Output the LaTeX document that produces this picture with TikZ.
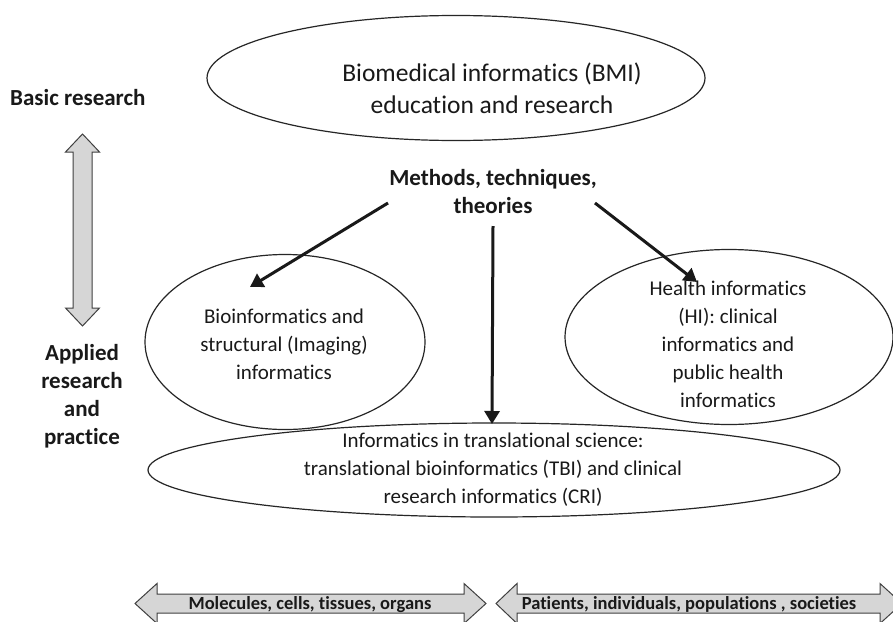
\documentclass[tikz,border=0pt]{standalone}
\usepackage{fontspec}
\setmainfont{Carlito}[Ligatures={NoCommon,NoContextual}]
\usetikzlibrary{shapes.geometric,arrows.meta}
\begin{document}
\begin{tikzpicture}[x=1pt,y=-1pt,
  oval/.style={draw=black!85,line width=1.2pt,ellipse,inner sep=0pt},
  body/.style={align=center,font=\fontsize{21}{28}\selectfont,text=black!90,inner sep=0pt},
  bold/.style={align=center,font=\fontsize{23}{28}\selectfont\bfseries,text=black!90,inner sep=0pt},
  small/.style={font=\fontsize{18.5}{22}\selectfont\bfseries,text=black!90,inner sep=0pt},
  arr/.style={line width=3pt,black!90,-{Triangle[length=13pt,width=15pt]}},
  fat/.style={draw=black!75,fill=black!16,line width=1pt,line join=miter},
]
\useasboundingbox (0,0) rectangle (893,621);
\clip (0,0) rectangle (893,621);
\fill[white] (0,0) rectangle (893,621);

% ellipses
\node[oval,minimum width=498pt,minimum height=125pt] (bmi) at (456,78) {};
\node[oval,minimum width=280pt,minimum height=175pt] (bio) at (285,342) {};
\node[oval,minimum width=328pt,minimum height=175pt] (hi) at (729,337) {};
\node[oval,minimum width=692pt,minimum height=94pt] (tr) at (494,470) {};

% texts
\node[body,font=\fontsize{25.5}{32}\selectfont] (bmit) at (492,88) {Biomedical informatics (BMI)\\education and research};
\node[bold] (meth) at (493,192) {Methods, techniques,\\theories};
\node[bold,anchor=base west] (basic) at (10,105) {Basic research};
\node[bold] (appl) at (82,396) {Applied\\research\\and\\practice};
\node[body] (biot) at (284,344) {Bioinformatics and\\structural (Imaging)\\informatics};
\node[body] (hit) at (728,344) {Health informatics\\(HI): clinical\\informatics and\\public health\\informatics};
\node[body] (trt) at (493,470) {Informatics in translational science:\\translational bioinformatics (TBI) and clinical\\research informatics (CRI)};

% connectors
\coordinate (l0) at (388,203);
\coordinate (l1) at (250,287);
\coordinate (r0) at (595,203);
\coordinate (r1) at (697,282);
\coordinate (d0) at (493,226);
\coordinate (d1) at (492,424);
\draw[arr] (l0) -- (l1);
\draw[arr] (r0) -- (r1);
\draw[arr] (d0) -- (d1);

% vertical double arrow
\draw[fat] (82.5,134) -- (99.5,152) -- (92,152) -- (92,308) -- (99.5,308) -- (82.5,326)
  -- (65.5,308) -- (73,308) -- (73,152) -- (65.5,152) -- cycle;

% bottom arrows
\draw[fat] (135,603.5) -- (157,583.5) -- (157,594) -- (464,594) -- (464,583.5) -- (486,603.5)
  -- (464,623.5) -- (464,613) -- (157,613) -- (157,623.5) -- cycle;
\draw[fat] (496,603.5) -- (517,583.5) -- (517,594) -- (880,594) -- (880,583.5) -- (902,603.5)
  -- (880,623.5) -- (880,613) -- (517,613) -- (517,623.5) -- cycle;
\node[small,anchor=base] (mol) at (310,609) {Molecules, cells, tissues, organs};
\node[small,anchor=base] (pat) at (689,609) {Patients, individuals, populations , societies};
\end{tikzpicture}
\end{document}
